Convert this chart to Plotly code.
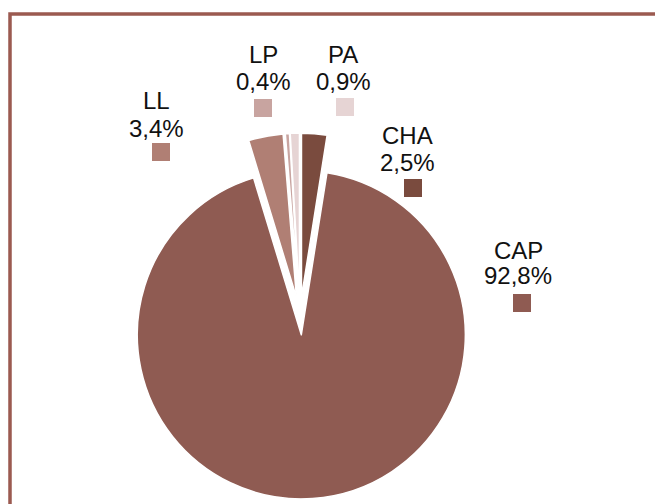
import plotly.graph_objects as go

labels = ["CHA", "CAP", "LL", "LP", "PA"]
values = [2.5, 92.8, 3.4, 0.4, 0.9]
value_text = ["2,5%", "92,8%", "3,4%", "0,4%", "0,9%"]
colors = ["#7a4b3e", "#8f5b52", "#b07f74", "#c8a4a0", "#e6d4d4"]

W, H = 663, 504
OFF = 8  # page body margin offset of the plot div
# label anchor positions (screen pixels): name line, value line, key square
label_pos = {
    "CHA": (407, 135, 162, 413, 188),
    "CAP": (518, 250, 275, 522, 303),
    "LL": (156, 100, 128, 161, 152),
    "LP": (263, 54, 81, 263, 108),
    "PA": (343, 54, 81, 345, 107),
}


def px(x):
    return (x - OFF) / W


def py(y):
    return 1 - (y - OFF) / H


fig = go.Figure()
fig.add_trace(go.Pie(
    labels=labels, values=values, sort=False, direction="clockwise", rotation=0,
    marker=dict(colors=colors, line=dict(color="white", width=1.5)),
    pull=[0.115] * len(values), textinfo="none", hoverinfo="label+percent",
    domain=dict(x=[px(117.1), px(482.9)], y=[py(498.9), py(133.1)]),
    showlegend=False,
))

annotations = []
shapes = []
for lab, txt, col in zip(labels, value_text, colors):
    tx, ty1, ty2, sx, sy = label_pos[lab]
    for t, yy in ((lab, ty1), (txt, ty2)):
        annotations.append(dict(
            x=px(tx), y=py(yy), xref="paper", yref="paper", text=t, showarrow=False,
            xanchor="center", yanchor="middle",
            font=dict(family="Liberation Sans, Arial, sans-serif", size=24, color="#111111"),
        ))
    shapes.append(dict(
        type="rect", xref="paper", yref="paper",
        x0=px(sx - 9), x1=px(sx + 9), y0=py(sy + 9), y1=py(sy - 9),
        fillcolor=col, line=dict(width=0),
    ))

# outer frame
shapes.append(dict(
    type="rect", xref="paper", yref="paper",
    x0=px(10), x1=1.1, y0=-0.1, y1=py(14),
    line=dict(color="#9b5a50", width=3.5), fillcolor="rgba(0,0,0,0)", layer="below",
))

fig.update_layout(
    width=W, height=H, margin=dict(l=0, r=0, t=0, b=0),
    paper_bgcolor="white", plot_bgcolor="white",
    annotations=annotations, shapes=shapes,
)
fig.write_html("out.html")
